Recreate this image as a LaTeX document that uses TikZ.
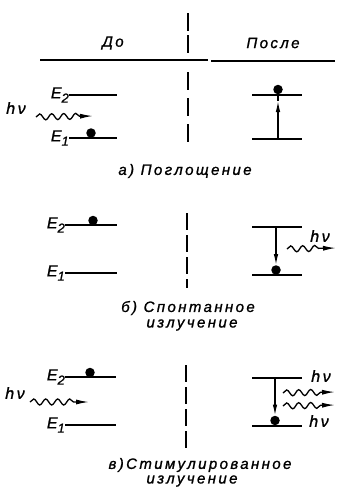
\documentclass[tikz,border=0pt]{standalone}
\usepackage{fontspec}
\setmainfont{Liberation Sans}[LetterSpace=16,ItalicFeatures={FakeBold=1.2}]
\usetikzlibrary{decorations.pathmorphing,arrows.meta}
\tikzset{
  level/.style={line width=2.8pt},
  elec/.style={circle,fill=black,inner sep=0pt,minimum size=9.5pt},
  sep/.style={line width=1.5pt,dash pattern=on 17pt off 5pt},
  photon/.style={line width=1.3pt,-{Latex[length=13pt,width=5pt]},
    decorate,decoration={snake,amplitude=3pt,segment length=12pt,post length=12pt}},
  trans/.style={line width=1.2pt},
  lbl/.style={font=\itshape\fontsize{15}{16}\selectfont,inner sep=0pt},
  elbl/.style={font=\itshape\fontsize{16}{16}\selectfont,inner sep=0pt}
}
\newcommand{\Ei}[1]{E\raisebox{-0.5ex}{\fontsize{13}{13}\selectfont #1}}
\begin{document}
\begin{tikzpicture}[x=1pt,y=-1pt]
\useasboundingbox (0,0) rectangle (339,493);
% header
\node[lbl] (do) at (113,43) {До};
\node[lbl] (posle) at (273,43) {После};
\coordinate (hl) at (40,60); \coordinate (hm1) at (208,60);
\coordinate (hm2) at (211,61); \coordinate (hr) at (335,61);
\draw[line width=1.5pt] (hl) -- (hm1) (hm2) -- (hr);
% separators
\coordinate (s1a) at (188,13); \coordinate (s1b) at (188,53);
\draw[sep,dash pattern=on 18pt off 4pt] (s1a) -- (s1b);
\coordinate (s2a) at (188,72); \coordinate (s2b) at (188,148);
\draw[sep,dash pattern=on 18pt off 8pt] (s2a) -- (s2b);
\coordinate (s3a) at (187,213); \coordinate (s3b) at (187,288);
\draw[sep] (s3a) -- (s3b);
\coordinate (s4a) at (186,365); \coordinate (s4b) at (186,451);
\draw[sep,dash pattern=on 17pt off 5pt] (s4a) -- (s4b);

% ===== a) absorption =====
\coordinate (a2l) at (69,95); \coordinate (a2r) at (117,95);
\coordinate (a1l) at (69,138); \coordinate (a1r) at (117,138);
\draw[level] (a2l) -- (a2r); \draw[level] (a1l) -- (a1r);
\node[elbl,anchor=east] (aE2) at (a2l) {\Ei{2}};
\node[elbl,anchor=east] (aE1) at (a1l) {\Ei{1}};
\node[elec] (ae) at (91,133) {};
\node[elbl] (ahv) at (16,108) {hν};
\coordinate (aps) at (36,117); \coordinate (ape) at (93,116);
\draw[photon] (aps) -- (ape);
\coordinate (b2l) at (252,95); \coordinate (b2r) at (302,95);
\coordinate (b1l) at (252,139); \coordinate (b1r) at (302,139);
\draw[level] (b2l) -- (b2r); \draw[level] (b1l) -- (b1r);
\node[elec] (be) at (278,89.5) {};
\coordinate (bt0) at (278,139); \coordinate (bt1) at (278,101);
\draw[trans,-{Latex[length=11pt,width=4.5pt]}] (bt0) -- (bt1);
\draw[trans] (bt1) -- (be);
\node[lbl] (capa) at (185,171) {а) Поглощение};

% ===== b) spontaneous =====
\coordinate (c2l) at (65,225); \coordinate (c2r) at (117,225);
\coordinate (c1l) at (65,273); \coordinate (c1r) at (117,273);
\draw[level] (c2l) -- (c2r); \draw[level] (c1l) -- (c1r);
\node[elbl,anchor=east] (cE2) at (c2l) {\Ei{2}};
\node[elbl,anchor=east] (cE1) at (c1l) {\Ei{1}};
\node[elec] (ce) at (93,220.5) {};
\coordinate (d2l) at (252,227); \coordinate (d2r) at (302,227);
\coordinate (d1l) at (252,275); \coordinate (d1r) at (302,275);
\draw[level] (d2l) -- (d2r); \draw[level] (d1l) -- (d1r);
\node[elec] (de) at (276,270) {};
\coordinate (dt0) at (276,227);
\draw[trans,-{Latex[length=11pt,width=4.5pt]}] (dt0) -- (de.north);
\node[elbl] (dhv) at (320,236) {hν};
\coordinate (dps) at (287,249); \coordinate (dpe) at (336,248);
\draw[photon] (dps) -- (dpe);
\node[lbl] (capb1) at (188,308) {б) Спонтанное};
\node[lbl] (capb2) at (192,325) {излучение};

% ===== c) stimulated =====
\coordinate (e2l) at (65,377); \coordinate (e2r) at (116,377);
\coordinate (e1l) at (65,425); \coordinate (e1r) at (116,425);
\draw[level] (e2l) -- (e2r); \draw[level] (e1l) -- (e1r);
\node[elbl,anchor=east] (eE2) at (e2l) {\Ei{2}};
\node[elbl,anchor=east] (eE1) at (e1l) {\Ei{1}};
\node[elec] (ee) at (90,372.5) {};
\node[elbl] (ehv) at (15,393) {hν};
\coordinate (eps) at (30,402); \coordinate (epe) at (89,402);
\draw[photon] (eps) -- (epe);
\coordinate (f2l) at (252,378); \coordinate (f2r) at (302,378);
\coordinate (f1l) at (252,426); \coordinate (f1r) at (302,426);
\draw[level] (f2l) -- (f2r); \draw[level] (f1l) -- (f1r);
\node[elec] (fe) at (275,420.5) {};
\coordinate (ft0) at (275,378);
\draw[trans,-{Latex[length=11pt,width=4.5pt]}] (ft0) -- (fe.north);
\node[elbl] (fhv1) at (321,376) {hν};
\node[elbl] (fhv2) at (319,421) {hν};
\coordinate (fp1s) at (283,393); \coordinate (fp1e) at (335,392);
\coordinate (fp2s) at (283,406); \coordinate (fp2e) at (335,405);
\draw[photon] (fp1s) -- (fp1e);
\draw[photon] (fp2s) -- (fp2e);
\node[lbl] (capc1) at (200,465) {в)Стимулированное};
\node[lbl] (capc2) at (192,481) {излучение};
\end{tikzpicture}
\end{document}
